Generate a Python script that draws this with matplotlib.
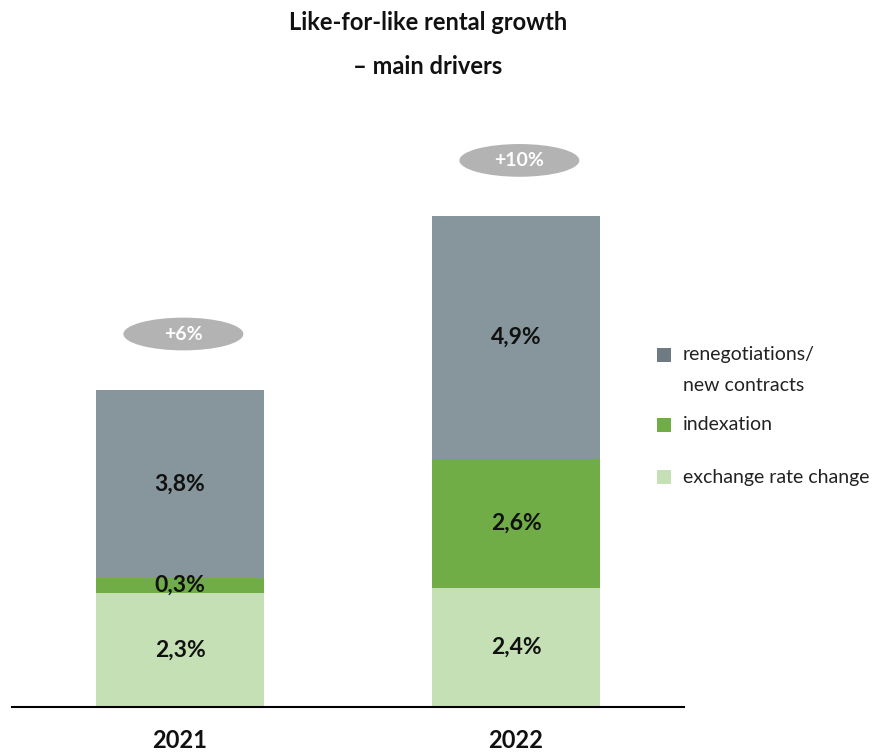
import matplotlib
matplotlib.use("Agg")
import matplotlib.pyplot as plt
from matplotlib.patches import Ellipse, Rectangle

plt.rcParams['font.family'] = ['Lato', 'DejaVu Sans']

years = ["2021", "2022"]
exchange = [2.3, 2.4]
indexation = [0.3, 2.6]
renegotiations = [3.8, 4.9]
totals_label = ["+6%", "+10%"]

c_reneg = "#87969d"
c_reneg_legend = "#6e7b83"
c_index = "#70ad47"
c_exch = "#c5e0b4"

W, H = 873, 755
fig = plt.figure(figsize=(W / 100, H / 100), dpi=100)
ax = fig.add_axes([12 / W, 1 - 707 / H, (684 - 12) / W, (707 - 100) / H])

x = list(range(len(years)))
width = 0.5
ax.bar(x, exchange, width, color=c_exch, zorder=2)
ax.bar(x, indexation, width, bottom=exchange, color=c_index, zorder=2)
bottom2 = [a + b for a, b in zip(exchange, indexation)]
ax.bar(x, renegotiations, width, bottom=bottom2, color=c_reneg, zorder=2)

def fmt(v):
    return f"{v:.1f}%".replace(".", ",")

for i in x:
    ax.text(i, exchange[i] / 2, fmt(exchange[i]), ha="center", va="center",
            fontsize=16.5, fontweight="bold", color="#111111", zorder=3)
    ax.text(i, exchange[i] + indexation[i] / 2, fmt(indexation[i]), ha="center", va="center",
            fontsize=16.5, fontweight="bold", color="#111111", zorder=3)
    ax.text(i, bottom2[i] + renegotiations[i] / 2, fmt(renegotiations[i]), ha="center", va="center",
            fontsize=16.5, fontweight="bold", color="#111111", zorder=3)
    total = bottom2[i] + renegotiations[i]
    yc = total + 1.12
    ax.add_patch(Ellipse((i + 0.01, yc), 0.357, 0.66, facecolor="#b3b3b3", edgecolor="none", zorder=2))
    ax.text(i + 0.01, yc, totals_label[i], ha="center", va="center", fontsize=14,
            fontweight="bold", color="white", zorder=3)

ax.set_xlim(-0.5, 1.5)
ax.set_ylim(0, (707 - 100) / 49.6)
for s in ["top", "right", "left"]:
    ax.spines[s].set_visible(False)
ax.spines["bottom"].set_linewidth(1.5)
ax.spines["bottom"].set_color("black")
ax.set_yticks([])
ax.set_xticks(x)
ax.set_xticklabels([])
ax.tick_params(axis="x", length=0)

# category labels under the axis
for i, yr in zip(x, years):
    xf = fig.transFigure.inverted().transform(ax.transData.transform((i, 0)))[0]
    fig.text(xf, 1 - 741 / H, yr, ha="center", va="center",
             fontsize=17, fontweight="bold", color="#111111")

# title
fig.text(428 / W, 1 - 22 / H, "Like-for-like rental growth", ha="center", va="center",
         fontsize=17, fontweight="bold", color="#111111")
fig.text(428 / W, 1 - 67 / H, "– main drivers", ha="center", va="center",
         fontsize=17, fontweight="bold", color="#111111")

# legend
legend_items = [
    (c_reneg_legend, 355, "renegotiations/", 385, "new contracts"),
    (c_index, 425, "indexation", None, None),
    (c_exch, 477, "exchange rate change", None, None),
]
for color, yc, txt, y2, txt2 in legend_items:
    fig.add_artist(Rectangle((657 / W, 1 - (yc + 7) / H), 14 / W, 14 / H,
                             transform=fig.transFigure, facecolor=color, edgecolor="none"))
    fig.text(683 / W, 1 - yc / H, txt, ha="left", va="center", fontsize=14, color="#222222")
    if txt2:
        fig.text(683 / W, 1 - y2 / H, txt2, ha="left", va="center", fontsize=14, color="#222222")

fig.savefig("out.png", dpi=100)
